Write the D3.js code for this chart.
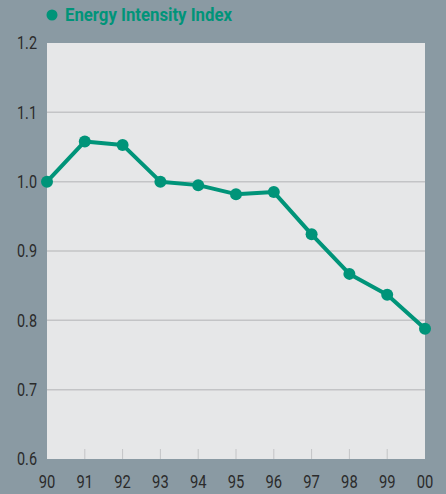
<!DOCTYPE html>
<html><head><meta charset="utf-8">
<script src="https://cdn.jsdelivr.net/npm/d3@7"></script>
<style>
html,body{margin:0;padding:0;background:#8a9aa3;}
svg{display:block;}
text{font-family:"Roboto","Liberation Sans",sans-serif;}
</style></head>
<body>
<svg id="c" width="446" height="494"></svg>
<script>
const years = ["90","91","92","93","94","95","96","97","98","99","00"];
const values = [1.0,1.058,1.053,1.0,0.995,0.982,0.985,0.924,0.867,0.837,0.788];
const yTicks = [0.6,0.7,0.8,0.9,1.0,1.1,1.2];
const seriesName = "Energy Intensity Index";

const svg = d3.select("#c");
const W=446,H=494;
const m={left:47,right:21,top:43,bottom:35};
const teal="#009479";
svg.append("rect").attr("width",W).attr("height",H).attr("fill","#8a9aa3");
const x=d3.scalePoint().domain(years).range([m.left,W-m.right]);
const y=d3.scaleLinear().domain([0.6,1.2]).range([H-m.bottom,m.top]);
svg.append("rect").attr("x",m.left).attr("y",m.top).attr("width",W-m.right-m.left).attr("height",H-m.bottom-m.top).attr("fill","#e6e7e8");
svg.append("g").selectAll("line").data(yTicks.filter(t=>t>0.6&&t<1.2)).join("line")
  .attr("x1",m.left).attr("x2",W-m.right).attr("y1",d=>y(d)).attr("y2",d=>y(d))
  .attr("stroke","#c3c4c6").attr("stroke-width",1.5);
svg.append("g").selectAll("line").data(years.slice(1,-1)).join("line")
  .attr("x1",d=>x(d)).attr("x2",d=>x(d)).attr("y1",H-m.bottom-10).attr("y2",H-m.bottom)
  .attr("stroke","#c3c4c6").attr("stroke-width",1);
svg.append("g").selectAll("text").data(yTicks).join("text")
  .attr("transform",d=>`translate(37,${y(d)}) scale(0.8,1)`).attr("dy","0.36em").attr("text-anchor","end")
  .attr("font-size",18).attr("fill","#2b2b2b").text(d=>d.toFixed(1));
svg.append("g").selectAll("text").data(years).join("text")
  .attr("transform",d=>`translate(${x(d)},488) scale(0.82,1)`).attr("text-anchor","middle")
  .attr("font-size",18).attr("fill","#2b2b2b").text(d=>d);
const line=d3.line().x((d,i)=>x(years[i])).y(d=>y(d));
svg.append("path").datum(values).attr("d",line).attr("fill","none").attr("stroke",teal).attr("stroke-width",4).attr("stroke-linejoin","round");
svg.append("g").selectAll("circle").data(values).join("circle")
  .attr("cx",(d,i)=>x(years[i])).attr("cy",d=>y(d)).attr("r",6).attr("fill",teal);
svg.append("circle").attr("cx",52).attr("cy",15).attr("r",5.5).attr("fill",teal);
svg.append("text").attr("x",65).attr("y",21).attr("font-size",18).attr("font-weight","bold").attr("fill",teal)
  .attr("textLength",167).attr("lengthAdjust","spacingAndGlyphs").text(seriesName);
</script>
</body></html>
